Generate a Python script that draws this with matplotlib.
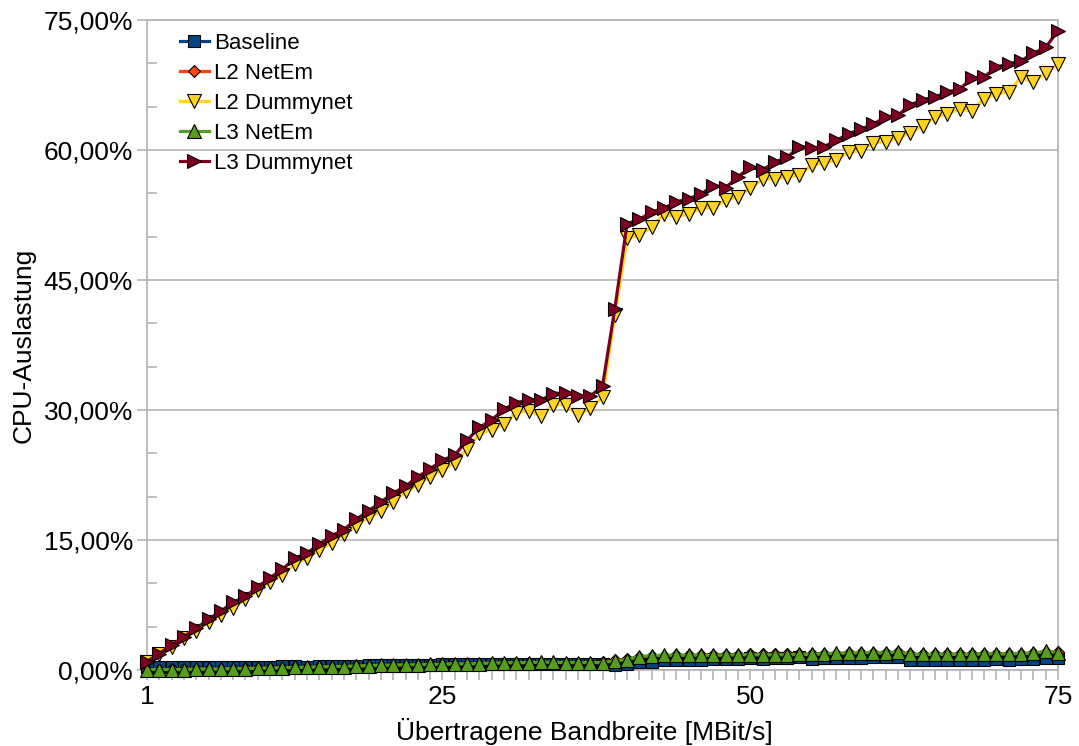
import matplotlib
matplotlib.use('Agg')
import matplotlib.pyplot as plt
from matplotlib.ticker import FixedLocator, MultipleLocator, FuncFormatter

plt.rcParams['font.family'] = ['Liberation Sans', 'DejaVu Sans']

bandwidth = list(range(1, 76))

baseline = [0.3, 0.3, 0.3, 0.3, 0.3, 0.35, 0.35, 0.4, 0.4, 0.4,
            0.4, 0.45, 0.45, 0.4, 0.45, 0.5, 0.5, 0.5, 0.55, 0.55,
            0.55, 0.6, 0.6, 0.6, 0.65, 0.65, 0.65, 0.7, 0.7, 0.7,
            0.75, 0.75, 0.75, 0.75, 0.75, 0.75, 0.7, 0.7, 0.6, 0.75,
            0.9, 0.95, 1.15, 1.1, 1.2, 1.2, 1.25, 1.3, 1.3, 1.35,
            1.3, 1.35, 1.35, 1.5, 1.25, 1.35, 1.35, 1.4, 1.4, 1.45,
            1.5, 1.55, 1.1, 1.15, 1.15, 1.2, 1.2, 1.2, 1.2, 1.25,
            1.2, 1.25, 1.3, 1.35, 1.4]

l2_netem = [0.05, 0.05, 0.1, 0.1, 0.1, 0.1, 0.15, 0.15, 0.2, 0.2,
            0.25, 0.25, 0.3, 0.3, 0.35, 0.4, 0.4, 0.45, 0.5, 0.5,
            0.55, 0.55, 0.6, 0.65, 0.65, 0.7, 0.7, 0.75, 0.75, 0.8,
            0.8, 0.85, 0.85, 0.85, 0.85, 0.85, 0.85, 0.9, 1.1, 1.3,
            1.5, 1.6, 1.65, 1.7, 1.7, 1.7, 1.75, 1.75, 1.75, 1.8,
            1.8, 1.8, 1.8, 1.85, 1.8, 1.85, 1.9, 1.95, 1.95, 2.0,
            2.0, 2.05, 1.85, 1.8, 1.8, 1.85, 1.85, 1.85, 1.85, 1.9,
            1.9, 1.9, 1.95, 2.1, 2.05]

l2_dummynet = [0.9, 1.8, 2.7, 3.65, 4.55, 5.5, 6.35, 7.2, 8.15, 9.2,
               10.2, 10.95, 12.2, 12.95, 13.85, 14.7, 15.7, 16.65, 17.6, 18.3,
               19.4, 20.6, 21.35, 22.3, 23.1, 23.9, 25.45, 27.3, 27.7, 28.35,
               29.7, 29.9, 29.3, 30.6, 30.6, 29.4, 30.2, 31.5, 40.95, 49.8,
               50.2, 51.15, 52.6, 52.3, 52.6, 53.3, 53.35, 54.2, 54.6, 55.6,
               56.6, 56.7, 56.9, 57.1, 58.3, 58.5, 58.85, 59.8, 59.9, 60.85,
               60.95, 61.35, 62.0, 62.8, 63.8, 64.15, 64.7, 64.5, 65.9, 66.5,
               66.7, 68.4, 67.8, 68.9, 69.9]

l3_netem = [0.05, 0.05, 0.05, 0.05, 0.1, 0.1, 0.1, 0.15, 0.15, 0.2,
            0.2, 0.25, 0.3, 0.3, 0.35, 0.4, 0.4, 0.45, 0.5, 0.55,
            0.55, 0.6, 0.6, 0.65, 0.65, 0.7, 0.7, 0.75, 0.8, 0.8,
            0.85, 0.85, 0.9, 0.9, 0.85, 0.85, 0.85, 0.85, 1.05, 1.2,
            1.55, 1.65, 1.7, 1.7, 1.7, 1.7, 1.7, 1.7, 1.75, 1.75,
            1.75, 1.75, 1.75, 1.8, 1.8, 1.85, 1.95, 1.95, 2.0, 2.0,
            1.95, 2.1, 1.8, 1.8, 1.8, 1.8, 1.8, 1.8, 1.85, 1.85,
            1.85, 1.9, 1.95, 2.15, 2.0]

l3_dummynet = [0.96, 1.9, 2.9, 3.85, 4.8, 5.85, 6.8, 7.8, 8.5, 9.6,
               10.65, 11.6, 12.9, 13.5, 14.5, 15.5, 16.2, 17.4, 18.35, 19.4,
               20.4, 21.2, 22.3, 23.2, 24.2, 24.8, 26.5, 28.0, 28.85, 30.1,
               30.85, 31.15, 31.15, 31.9, 32.0, 31.6, 31.6, 32.75, 41.7, 51.5,
               52.0, 52.85, 53.3, 54.0, 54.4, 54.9, 55.9, 55.65, 56.9, 58.0,
               57.7, 58.6, 59.15, 60.4, 60.2, 60.4, 61.1, 61.9, 62.4, 63.0,
               63.8, 64.0, 65.2, 65.8, 66.1, 66.7, 67.0, 68.3, 68.4, 69.6,
               69.9, 70.3, 71.15, 71.85, 73.75]

series = [
    ('Baseline', baseline, '#004586', 's', 8.5),
    ('L2 NetEm', l2_netem, '#ff420e', 'D', 6.5),
    ('L2 Dummynet', l2_dummynet, '#ffd320', 'v', 10),
    ('L3 NetEm', l3_netem, '#579d1c', '^', 10),
    ('L3 Dummynet', l3_dummynet, '#7e0021', '>', 10),
]

fig = plt.figure(figsize=(10.79, 7.46), dpi=100)
ax = fig.add_axes([147 / 1079, 1 - 670 / 746, (1058 - 147) / 1079, (670 - 20) / 746])

for name, vals, col, mk, ms in series:
    ax.plot(bandwidth, vals, color=col, lw=2.3, marker=mk, markersize=ms,
            markerfacecolor=col, markeredgecolor='black', markeredgewidth=0.8,
            label=name, clip_on=False, zorder=3)

ax.set_xlim(1, 75)
ax.set_ylim(0, 75)

ax.xaxis.set_major_locator(FixedLocator([1, 25, 50, 75]))
ax.xaxis.set_minor_locator(MultipleLocator(1))
ax.yaxis.set_major_locator(MultipleLocator(15))
ax.yaxis.set_minor_locator(MultipleLocator(5))
ax.yaxis.set_major_formatter(FuncFormatter(lambda v, p: ('%.2f%%' % v).replace('.', ',')))

ax.grid(True, which='major', axis='y', color='#b3b3b3', lw=1.2)
ax.set_axisbelow(True)
for s in ax.spines.values():
    s.set_color('#b3b3b3')
    s.set_linewidth(1.2)

ax.tick_params(axis='x', which='both', direction='out', color='#b3b3b3', length=7, width=1.2,
               labelsize=19, pad=4)
ax.tick_params(axis='y', which='major', direction='out', color='#b3b3b3', length=7, width=1.2,
               labelsize=19, pad=3)
ax.tick_params(axis='y', which='minor', direction='in', color='#b3b3b3', length=7, width=1.2)

ax.set_xlabel('Übertragene Bandbreite [MBit/s]', fontsize=19, labelpad=6)
ax.xaxis.label.set_x((584 - 147) / 911)
ax.set_ylabel('CPU-Auslastung', fontsize=19, labelpad=6)

ax.legend(loc='upper left', bbox_to_anchor=(180 / 1079, 1 - 33 / 746), bbox_transform=fig.transFigure,
          frameon=False, fontsize=16, handlelength=1.3, handletextpad=0.25, labelspacing=0.4,
          borderpad=0, borderaxespad=0)

fig.savefig('out.png', dpi=100)
